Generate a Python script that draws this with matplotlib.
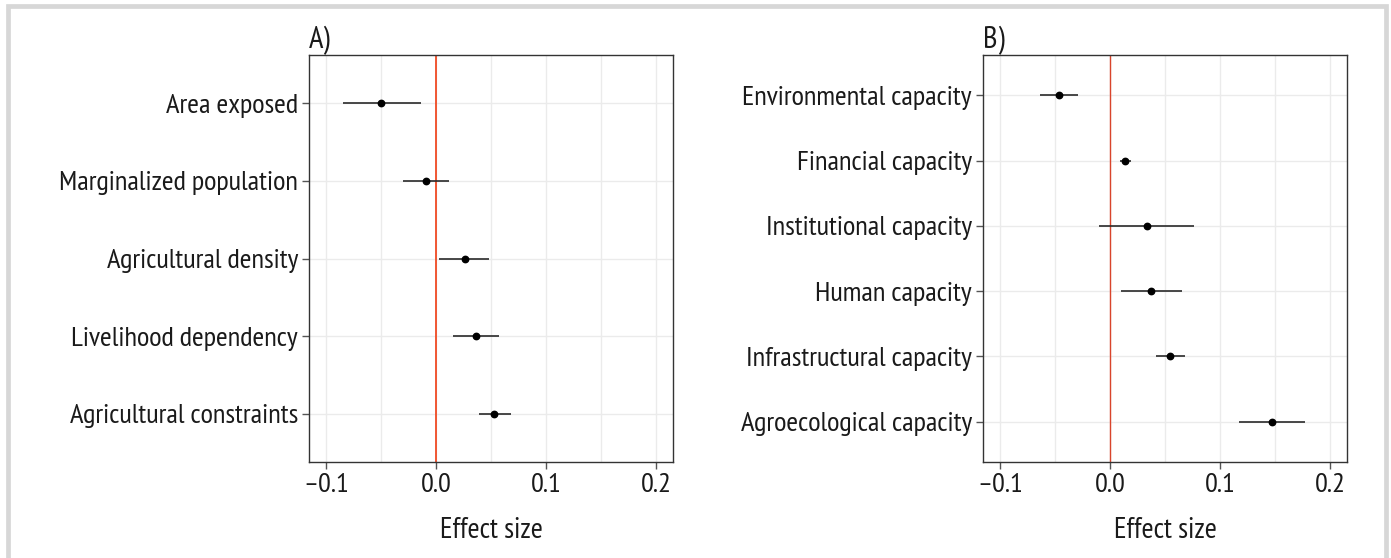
import matplotlib.pyplot as plt
from matplotlib.patches import Rectangle
from matplotlib.ticker import MultipleLocator

plt.rcParams['font.family'] = ['PT Sans Narrow', 'DejaVu Sans']
plt.rcParams['font.stretch'] = 'condensed'

# Panel A: exposure / sensitivity
labels_a = ['Area exposed', 'Marginalized population', 'Agricultural density',
            'Livelihood dependency', 'Agricultural constraints']
est_a = [-0.050, -0.0097, 0.0258, 0.0358, 0.0527]
low_a = [-0.085, -0.030, 0.0025, 0.0152, 0.0388]
high_a = [-0.0142, 0.0113, 0.048, 0.0567, 0.0682]

# Panel B: adaptive capacity
labels_b = ['Environmental capacity', 'Financial capacity', 'Institutional capacity',
            'Human capacity', 'Infrastructural capacity', 'Agroecological capacity']
est_b = [-0.0466, 0.0136, 0.0330, 0.0373, 0.0545, 0.1467]
low_b = [-0.0636, 0.0088, -0.0103, 0.0097, 0.0412, 0.117]
high_b = [-0.029, 0.0185, 0.0761, 0.0655, 0.0682, 0.1767]

xticks = [-0.1, 0.0, 0.1, 0.2]
xtick_labels = ['\u20130.1', '0.0', '0.1', '0.2']

W, H = 1391, 558
fig = plt.figure(figsize=(W / 100, H / 100), dpi=100)


def forest(ax, labels, est, low, high, title, zero_color, zero_lw):
    n = len(labels)
    ys = list(range(n))[::-1]
    ax.hlines(ys, low, high, color='#2a2a2a', lw=1.2, zorder=3)
    ax.plot(est, ys, 'o', color='black', ms=4.6, zorder=4)
    ax.axvline(0, color=zero_color, lw=zero_lw, zorder=2)
    ax.set_xlim(-0.1155, 0.2150)
    ax.set_ylim(-0.62, n - 1 + 0.62)
    ax.set_yticks(ys)
    ax.set_yticklabels(labels, fontsize=20.5, color='#1a1a1a')
    ax.set_xticks(xticks)
    ax.set_xticklabels(xtick_labels, fontsize=20.5, color='#1a1a1a')
    ax.xaxis.set_minor_locator(MultipleLocator(0.05))
    ax.grid(True, which='both', color='#ebebeb', lw=1, zorder=0)
    ax.tick_params(which='minor', length=0)
    ax.tick_params(which='major', length=5, width=1, color='#555555', pad=3)
    for s in ax.spines.values():
        s.set_color('#333333')
        s.set_linewidth(1)
    ax.set_axisbelow(True)
    ax.set_xlabel('Effect size', fontsize=21, color='#1a1a1a', labelpad=14)
    ax.set_title(title, loc='left', fontsize=22, color='#1a1a1a', pad=4)


ax_a = fig.add_axes([309 / W, 96 / H, 364 / W, 407 / H])
forest(ax_a, labels_a, est_a, low_a, high_a, 'A)', '#f04a23', 1.3)

ax_b = fig.add_axes([983 / W, 96 / H, 364 / W, 407 / H])
forest(ax_b, labels_b, est_b, low_b, high_b, 'B)', '#d9442b', 1.0)

# light grey outer frame (open at the bottom)
fig.patches.append(Rectangle((7.5 / W, -0.05), (1386 - 7.5) / W, 1.05 - 6 / H,
                             transform=fig.transFigure, fill=False,
                             edgecolor='#d7d7d7', lw=3.4))

fig.savefig('out.png', dpi=100)
